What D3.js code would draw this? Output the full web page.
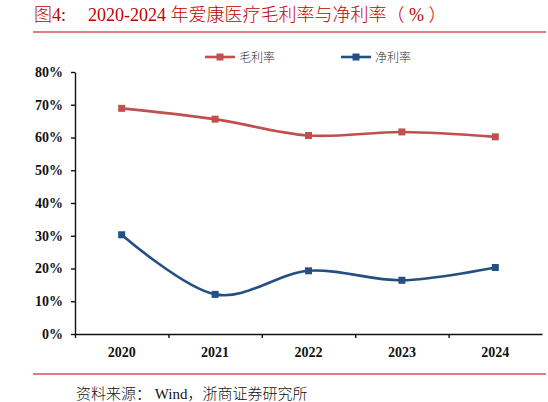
<!DOCTYPE html>
<html>
<head>
<meta charset="utf-8">
<script src="https://cdn.jsdelivr.net/npm/d3@7"></script>
<style>
  body { margin: 0; background: #fff; }
</style>
</head>
<body>
<div id="chart"></div>
<script>
const years = ["2020", "2021", "2022", "2023", "2024"];
const grossMargin = [0.689, 0.656, 0.606, 0.617, 0.602];
const netMargin = [0.303, 0.121, 0.193, 0.164, 0.203];
const yTicks = [0, 0.1, 0.2, 0.3, 0.4, 0.5, 0.6, 0.7, 0.8];

const size = { width: 548, height: 402 };
const serif = "'Liberation Serif', 'Times New Roman', 'Noto Sans CJK SC', serif";
const cjk = "'Liberation Serif', 'Noto Sans CJK SC', sans-serif";

const svg = d3.select("#chart").append("svg")
  .attr("width", size.width)
  .attr("height", size.height);

// title + red rules
const title = svg.append("text")
  .attr("y", 21)
  .attr("fill", "#c00000")
  .style("font-family", cjk)
  .style("font-size", "18px")
  .style("font-weight", 300);
title.append("tspan").attr("x", 34).text("图4:");
title.append("tspan").attr("x", 88).text("2020-2024 年爱康医疗毛利率与净利率（ % ）");

svg.append("line")
  .attr("x1", 33).attr("x2", 546).attr("y1", 32).attr("y2", 32)
  .attr("stroke", "#c00000").attr("stroke-width", 1.2);

svg.append("line")
  .attr("x1", 33).attr("x2", 546).attr("y1", 374).attr("y2", 374)
  .attr("stroke", "#c00000").attr("stroke-width", 1.2);

svg.append("text")
  .attr("x", 76).attr("y", 399)
  .attr("fill", "#111")
  .style("font-family", cjk)
  .style("font-size", "15px")
  .style("font-weight", 300)
  .text("资料来源： Wind，浙商证券研究所");

// scales
const x = d3.scaleBand().domain(years).range([75, 542]);
const slots = d3.scaleLinear().domain([0, years.length]).range([75, 542]);
const y = d3.scaleLinear().domain([0, 0.8]).range([334, 72]);
const cx = (d) => x(d) + x.bandwidth() / 2;

// y axis
const yAxis = svg.append("g")
  .attr("transform", "translate(75,0)")
  .call(d3.axisLeft(y).tickValues(yTicks).tickFormat(d3.format(".0%"))
    .tickSize(4).tickSizeOuter(0).tickPadding(8));
yAxis.selectAll("text")
  .style("font-family", serif).style("font-size", "14px")
  .style("font-weight", "bold").attr("fill", "#111");

// x axis: boundary ticks + centered labels
svg.append("g")
  .attr("transform", "translate(0,334)")
  .call(d3.axisBottom(slots).tickValues(d3.range(years.length))
    .tickFormat("").tickSize(4).tickSizeOuter(0));

svg.append("g")
  .selectAll("text")
  .data(years)
  .join("text")
  .attr("x", cx)
  .attr("y", 357)
  .attr("text-anchor", "middle")
  .attr("fill", "#111")
  .style("font-family", serif)
  .style("font-size", "14px")
  .style("font-weight", "bold")
  .text((d) => d);

svg.selectAll(".domain, .tick line").attr("stroke", "#111").attr("stroke-width", 1.4);

// series
const series = [
  { name: "毛利率", values: grossMargin, color: "#c0504d", lx: 205 },
  { name: "净利率", values: netMargin, color: "#254e83", lx: 341 },
];

const line = d3.line()
  .x((d, i) => cx(years[i]))
  .y((d) => y(d))
  .curve(d3.curveCardinal.tension(0));

series.forEach((s) => {
  svg.append("path")
    .attr("d", line(s.values))
    .attr("fill", "none")
    .attr("stroke", s.color)
    .attr("stroke-width", 2.6);

  svg.append("g")
    .selectAll("rect")
    .data(s.values)
    .join("rect")
    .attr("x", (d, i) => cx(years[i]) - 3.5)
    .attr("y", (d) => y(d) - 3.5)
    .attr("width", 7)
    .attr("height", 7)
    .attr("fill", s.color);

  // legend
  const lg = svg.append("g").attr("transform", `translate(${s.lx},57)`);
  lg.append("line").attr("x1", 0).attr("x2", 30)
    .attr("stroke", s.color).attr("stroke-width", 2.6);
  lg.append("rect").attr("x", 11.5).attr("y", -3.5)
    .attr("width", 7).attr("height", 7).attr("fill", s.color);
  lg.append("text").attr("x", 34).attr("y", 4.5)
    .attr("fill", "#333")
    .style("font-family", cjk).style("font-size", "12px")
    .style("font-weight", 300)
    .text(s.name);
});
</script>
</body>
</html>
